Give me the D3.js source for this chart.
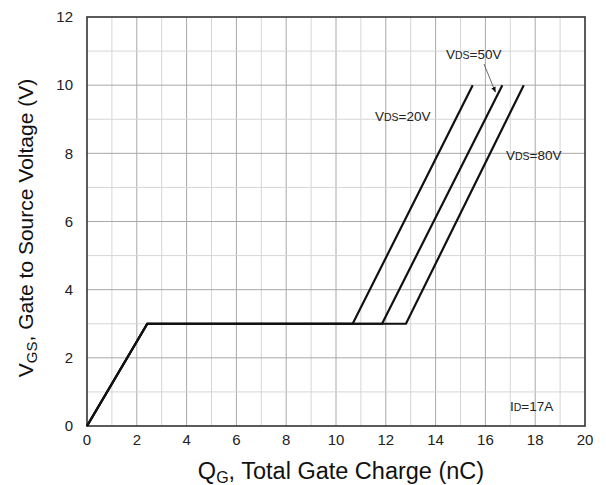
<!DOCTYPE html>
<html>
<head>
<meta charset="utf-8">
<script src="https://cdn.jsdelivr.net/npm/d3@7"></script>
<style>
  body { margin: 0; background: #fff; }
  svg { font-family: "Liberation Sans", Arial, sans-serif; }
</style>
</head>
<body>
<div id="chart"></div>
<script>
// Gate charge curves, ID = 17A
const series = [
  { label: "20V", qg: [0, 2.42, 10.67, 15.49], vgs: [0, 3, 3, 10] },
  { label: "50V", qg: [0, 2.42, 11.85, 16.68], vgs: [0, 3, 3, 10] },
  { label: "80V", qg: [0, 2.42, 12.81, 17.54], vgs: [0, 3, 3, 10] }
];
const xTicks = [0, 2, 4, 6, 8, 10, 12, 14, 16, 18, 20];
const yTicks = [0, 2, 4, 6, 8, 10, 12];

const width = 606;
const height = 485;
const marginLeft = 87;
const marginRight = 21;
const marginTop = 17;
const marginBottom = 59;

const svg = d3.create("svg")
  .attr("viewBox", [0, 0, width, height])
  .attr("width", width)
  .attr("height", height);

const x = d3.scaleLinear().domain([0, 20]).range([marginLeft, width - marginRight]);
const y = d3.scaleLinear().domain([0, 12]).range([height - marginBottom, marginTop]);

// grid: minor every 1, major at even values
const grid = svg.append("g");
grid.selectAll("line.vx")
  .data(d3.range(1, 20))
  .join("line")
  .attr("x1", (d) => x(d)).attr("x2", (d) => x(d))
  .attr("y1", y(0)).attr("y2", y(12))
  .attr("stroke", (d) => (d % 2 === 0 ? "#a8a8a8" : "#d6d6d6"))
  .attr("stroke-width", 1);
grid.selectAll("line.hy")
  .data(d3.range(1, 12))
  .join("line")
  .attr("x1", x(0)).attr("x2", x(20))
  .attr("y1", (d) => y(d)).attr("y2", (d) => y(d))
  .attr("stroke", (d) => (d % 2 === 0 ? "#a8a8a8" : "#d6d6d6"))
  .attr("stroke-width", 1);

// frame
svg.append("rect")
  .attr("x", x(0)).attr("y", y(12))
  .attr("width", x(20) - x(0)).attr("height", y(0) - y(12))
  .attr("fill", "none")
  .attr("stroke", "#333")
  .attr("stroke-width", 1.6);

// tick labels
svg.append("g").selectAll("text")
  .data(xTicks)
  .join("text")
  .attr("x", (d) => x(d))
  .attr("y", y(0) + 19)
  .attr("text-anchor", "middle")
  .attr("font-size", 15)
  .attr("fill", "#222")
  .text((d) => d);

svg.append("g").selectAll("text")
  .data(yTicks)
  .join("text")
  .attr("x", x(0) - 14)
  .attr("y", (d) => y(d))
  .attr("dy", "0.35em")
  .attr("text-anchor", "end")
  .attr("font-size", 15)
  .attr("fill", "#222")
  .text((d) => d);

// curves
const line = d3.line().x((d) => x(d[0])).y((d) => y(d[1]));
svg.append("g").selectAll("path")
  .data(series)
  .join("path")
  .attr("d", (s) => line(s.qg.map((q, i) => [q, s.vgs[i]])))
  .attr("fill", "none")
  .attr("stroke", "#111")
  .attr("stroke-width", 2.2)
  .attr("stroke-linejoin", "miter");

// inline labels: V + small DS
function vdsLabel(px, py, text, main = "V", sub = "DS") {
  const t = svg.append("text")
    .attr("x", px).attr("y", py)
    .attr("font-size", 13.5)
    .attr("fill", "#222");
  t.append("tspan").text(main);
  t.append("tspan").attr("font-size", 10.5).text(sub);
  t.append("tspan").text(text);
}
vdsLabel(375, 121, "=20V");
vdsLabel(446, 59, "=50V");
vdsLabel(506, 160, "=80V");
vdsLabel(510, 411, "=17A", "I", "D");

// arrow to 50V curve
svg.append("defs").append("marker")
  .attr("id", "arr")
  .attr("viewBox", "0 0 10 10")
  .attr("refX", 9).attr("refY", 5)
  .attr("markerWidth", 7).attr("markerHeight", 7)
  .attr("orient", "auto")
  .append("path")
  .attr("d", "M0,1 L10,5 L0,9 Z")
  .attr("fill", "#111");
svg.append("line")
  .attr("x1", 484).attr("y1", 64)
  .attr("x2", x(16.4)).attr("y2", y(9.8))
  .attr("stroke", "#444")
  .attr("stroke-width", 0.8)
  .attr("marker-end", "url(#arr)");

// axis titles
const xt = svg.append("text")
  .attr("x", 341)
  .attr("y", 479)
  .attr("text-anchor", "middle")
  .attr("font-size", 23.5)
  .attr("fill", "#111");
xt.append("tspan").text("Q");
xt.append("tspan").attr("font-size", 16).attr("dy", 4).text("G");
xt.append("tspan").attr("dy", -4).text(", Total Gate Charge (nC)");

const yt = svg.append("text")
  .attr("transform", "translate(33,228) rotate(-90)")
  .attr("text-anchor", "middle")
  .attr("font-size", 21)
  .attr("fill", "#111");
yt.append("tspan").text("V");
yt.append("tspan").attr("font-size", 15).attr("dy", 4).text("GS");
yt.append("tspan").attr("dy", -4).text(", Gate to Source Voltage (V)");

d3.select("#chart").append(() => svg.node());
</script>
</body>
</html>
